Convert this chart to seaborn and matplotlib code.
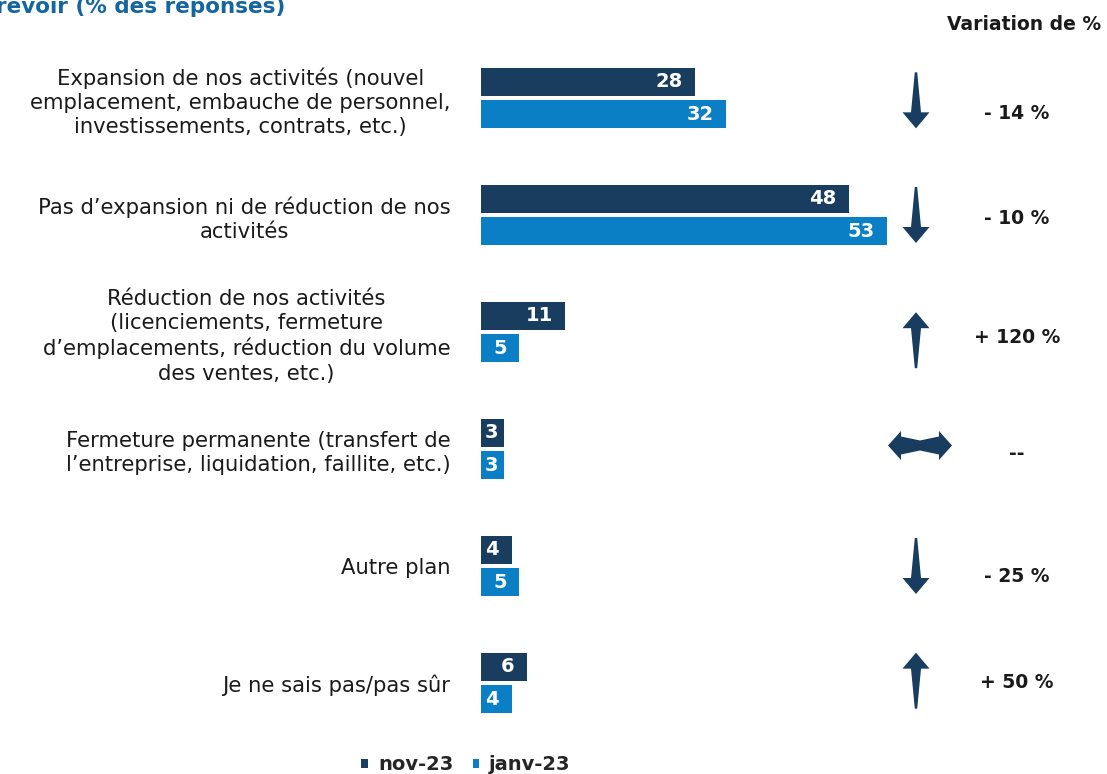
import pandas as pd
import numpy as np
import matplotlib.pyplot as plt
import matplotlib.transforms as mtransforms
from matplotlib.patches import Polygon
import seaborn as sns

# --- data ---
categories = [
    "Expansion de nos activités (nouvel\nemplacement, embauche de personnel,\ninvestissements, contrats, etc.)",
    "Pas d’expansion ni de réduction de nos\nactivités",
    "Réduction de nos activités\n(licenciements, fermeture\nd’emplacements, réduction du volume\ndes ventes, etc.)",
    "Fermeture permanente (transfert de\nl’entreprise, liquidation, faillite, etc.)",
    "Autre plan",
    "Je ne sais pas/pas sûr",
]
periods = ["nov-23", "janv-23"]
nov_23 = [28, 48, 11, 3, 4, 6]
janv_23 = [32, 53, 5, 3, 5, 4]
variation_labels = ["- 14 %", "- 10 %", "+ 120 %", "--", "- 25 %", "+ 50 %"]
directions = ["down", "down", "up", "both", "down", "up"]

# layout tweaks per row (in category units), not data
arrow_dy = [0.02, 0.0, 0.07, -0.03, 0.0, -0.02]
text_dy = [0.13, 0.03, 0.05, 0.04, 0.09, 0.0]

navy = "#183d5e"
blue = "#0a7fc6"
title_blue = "#1565a0"

df = pd.DataFrame({
    "Catégorie": categories * 2,
    "Valeur": nov_23 + janv_23,
    "Période": [periods[0]] * len(categories) + [periods[1]] * len(categories),
})

sns.set_style("white")
plt.rcParams["font.family"] = ["DejaVu Sans"]

fig = plt.figure(figsize=(11.07, 7.74), dpi=100)
ax = fig.add_axes([481 / 1107, 1 - 741.5 / 774, 1 - 481 / 1107, 702 / 774])

sns.barplot(data=df, y="Catégorie", x="Valeur", hue="Période", orient="h",
            palette=[navy, blue], saturation=1, width=0.56, gap=0.14,
            linewidth=0, ax=ax, legend=True)

px_per_unit = 7.66
ax.set_xlim(0, 626 / px_per_unit)
ax.set_ylim(len(categories) - 0.5, -0.5)
for s in ax.spines.values():
    s.set_visible(False)
ax.set_xticks([])
ax.set_xlabel("")
ax.set_ylabel("")
ax.tick_params(axis="y", length=0, pad=22, labelsize=15.2, colors="#1a1a1a")
for lab in ax.get_yticklabels():
    lab.set_multialignment("center")
    lab.set_linespacing(1.28)

# value labels inside the bars
for cont in ax.containers:
    for bar in cont:
        w = bar.get_width()
        yc = bar.get_y() + bar.get_height() / 2
        ax.annotate(f"{w:.0f}", xy=(w, yc), xytext=(-9 if w > 3 else -4.5, 0),
                    textcoords="offset points", ha="right", va="center",
                    color="white", fontsize=14, fontweight="bold")

# arrow shapes, in pixels around their centre (y up)
down_arrow = np.array([(0, -28), (13.5, -12), (5, -12), (1.2, 28),
                       (-1.2, 28), (-5, -12), (-13.5, -12)])
up_arrow = down_arrow * [1, -1]
both_arrow = np.array([(-32, 0), (-19, 14.5), (-19, 9), (0, 5), (19, 9), (19, 14.5),
                       (32, 0), (19, -14.5), (19, -9), (0, -5), (-19, -9), (-19, -14.5)])
shapes = {"down": down_arrow, "up": up_arrow, "both": both_arrow}

x_text = (1017 - 481) / px_per_unit
for i, (d, lab) in enumerate(zip(directions, variation_labels)):
    x_arrow = (916 - 481) / px_per_unit if d != "both" else (920 - 481) / px_per_unit
    trans = fig.dpi_scale_trans + mtransforms.ScaledTranslation(x_arrow, i + arrow_dy[i], ax.transData)
    ax.add_patch(Polygon(shapes[d] / fig.dpi, closed=True, transform=trans,
                         facecolor=navy, edgecolor="none"))
    ax.text(x_text, i + text_dy[i], lab, ha="center", va="center", fontsize=13.5,
            fontweight="bold", color="#1a1a1a")

# legend at the bottom
handles, labels = ax.get_legend_handles_labels()
ax.get_legend().remove()
fig.legend(handles, labels, loc="center", bbox_to_anchor=(0.421, 0.012), ncol=2,
           frameon=False, handlelength=0.35, handleheight=0.35, handletextpad=0.5,
           columnspacing=1.0, prop=dict(size=14, weight="bold"))

fig.text(0.995, 1 - 25 / 774, "Variation de %", ha="right", va="center",
         fontsize=13.5, fontweight="bold", color="#1a1a1a")
fig.text(-0.004, 1 - 13 / 774, "revoir (% des réponses)", ha="left", va="baseline",
         fontsize=15.5, fontweight="bold", color=title_blue)

fig.savefig("out.png", dpi=100)
